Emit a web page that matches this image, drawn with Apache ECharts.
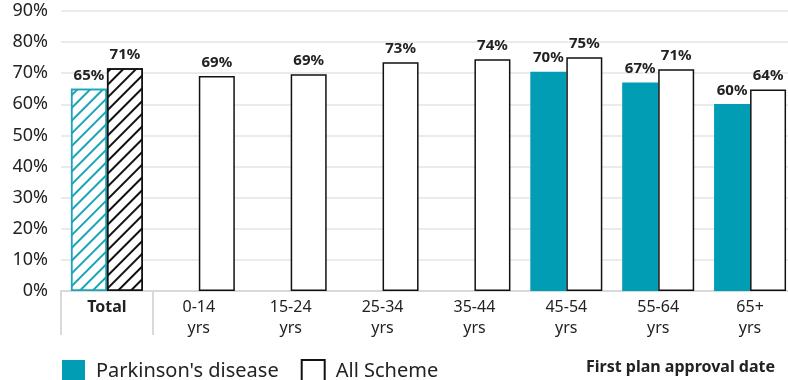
<!DOCTYPE html>
<html>
<head>
<meta charset="utf-8">
<script src="https://cdn.jsdelivr.net/npm/echarts@6/dist/echarts.min.js"></script>
<style>
  html, body { margin: 0; padding: 0; background: #fff; }
  #chart { width: 788px; height: 380px; }
</style>
</head>
<body>
<div id="chart"></div>
<script>
const categories = ['Total', '0-14\nyrs', '15-24\nyrs', '25-34\nyrs', '35-44\nyrs', '45-54\nyrs', '55-64\nyrs', '65+\nyrs']
const parkinsons = [65, null, null, null, null, 70.5, 67, 60.1]
const allScheme = [71.6, 69.1, 69.7, 73.5, 74.5, 75.1, 71.3, 64.8]
const yTicks = [0, 10, 20, 30, 40, 50, 60, 70, 80, 90]

const teal = '#009db4'
const font = 'Noto Sans'

// first category is the hatched "Total" pair
function hatch (color) {
  return {
    color: '#fff',
    borderColor: color,
    borderWidth: 1.5,
    decal: {
      symbol: 'rect',
      symbolSize: 1,
      color: color,
      dashArrayX: [1, 0],
      dashArrayY: [1.5, 7],
      rotation: -Math.PI / 4
    }
  }
}

// the source truncates its labels (64.8 shows as 64%)
const label = {
  show: true,
  position: 'top',
  distance: 6,
  formatter: (p) => Math.floor(p.value) + '%',
  fontFamily: font,
  fontWeight: 'bold',
  fontSize: 15,
  color: '#222'
}

const chart = echarts.init(document.getElementById('chart'))
chart.setOption({
  animation: false,
  textStyle: { fontFamily: font },
  grid: { left: 61, width: 735, top: 11, bottom: 89, containLabel: false, outerBoundsMode: 'none' },
  legend: {
    left: 57,
    top: 354,
    itemWidth: 23,
    itemHeight: 23,
    itemGap: 22,
    icon: 'rect',
    textStyle: { fontFamily: font, fontSize: 20, color: '#222', padding: [0, 0, 0, 6] },
    data: ["Parkinson's disease", 'All Scheme']
  },
  graphic: [{
    type: 'text',
    right: 13,
    top: 359,
    style: { text: 'First plan approval date', fontFamily: font, fontWeight: 'bold', fontSize: 16, fill: '#222' }
  }],
  xAxis: {
    type: 'category',
    data: categories,
    axisLine: { lineStyle: { color: '#d9d9d9', width: 2 } },
    axisTick: {
      show: true,
      length: 44,
      interval: (i) => i <= 1,
      lineStyle: { color: '#d9d9d9', width: 2 }
    },
    axisLabel: {
      margin: 6,
      fontFamily: font,
      fontSize: 16,
      lineHeight: 21,
      color: '#222',
      formatter: (v) => v === 'Total' ? '{b|Total}' : v,
      rich: { b: { fontFamily: font, fontSize: 16, lineHeight: 21, fontWeight: 'bold', color: '#222' } }
    }
  },
  yAxis: {
    type: 'value',
    min: yTicks[0],
    max: yTicks[yTicks.length - 1],
    interval: 10,
    axisLine: { show: false },
    axisTick: { show: false },
    splitLine: { lineStyle: { color: '#e4e4e4', width: 1.5 } },
    axisLabel: { margin: 13, fontFamily: font, fontSize: 18, color: '#222', formatter: '{value}%' }
  },
  series: [
    {
      name: "Parkinson's disease",
      type: 'bar',
      barWidth: 36,
      barGap: '0%',
      itemStyle: { color: teal },
      label: label,
      data: parkinsons.map((v, i) => i === 0 ? { value: v, itemStyle: hatch('#1aa5b8') } : v)
    },
    {
      name: 'All Scheme',
      type: 'bar',
      barWidth: 36,
      barGap: '0%',
      itemStyle: { color: '#fff', borderColor: '#111', borderWidth: 1.5 },
      label: label,
      data: allScheme.map((v, i) => i === 0 ? { value: v, itemStyle: hatch('#111') } : v)
    }
  ]
})
</script>
</body>
</html>
